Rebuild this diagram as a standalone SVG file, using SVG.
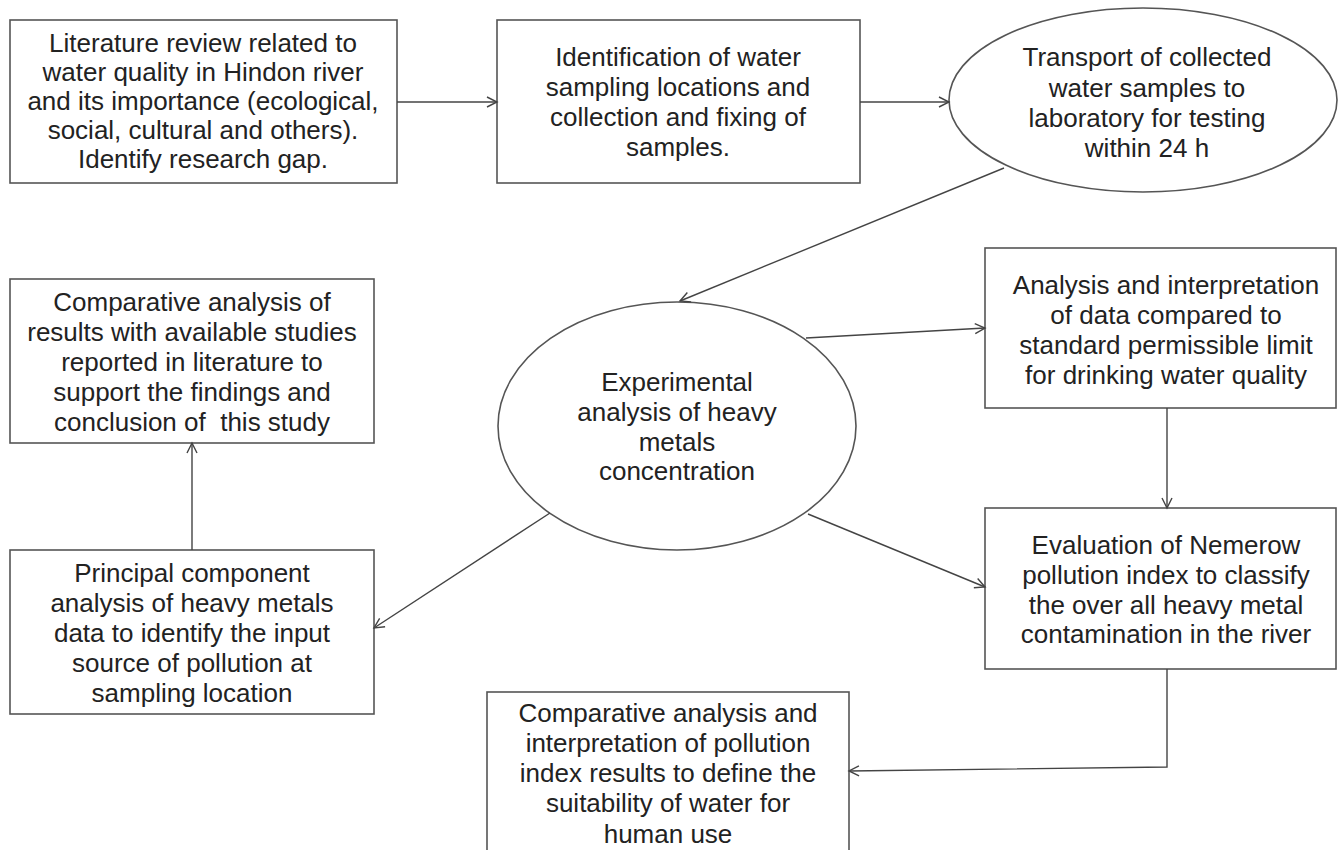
<svg xmlns="http://www.w3.org/2000/svg" width="1338" height="850" viewBox="0 0 1338 850">
<style>
.box{fill:#fff;stroke:#555;stroke-width:1.6}
.t{font-family:"Liberation Sans",Arial,sans-serif;font-size:26px;fill:#222;text-anchor:middle}
.c{fill:none;stroke:#444;stroke-width:1.4}
</style>
<defs>
<marker id="ah" markerUnits="userSpaceOnUse" markerWidth="14" markerHeight="14" refX="11" refY="6" orient="auto">
<path d="M1,1 L11,6 L1,11" fill="none" stroke="#444" stroke-width="1.4"/>
</marker>
</defs>
<rect width="1338" height="850" fill="#fff"/>
<g id="n1">
<rect class="box" x="10" y="20" width="387" height="163"/>
<text class="t" x="203"><tspan x="203" y="52">Literature review related to</tspan><tspan x="203" y="81">water quality in Hindon river</tspan><tspan x="203" y="110">and its importance (ecological,</tspan><tspan x="203" y="139">social, cultural and others).</tspan><tspan x="203" y="168">Identify research gap.</tspan></text>
</g>
<g id="n2">
<rect class="box" x="497" y="20" width="363" height="163"/>
<text class="t"><tspan x="678" y="66">Identification of water</tspan><tspan x="678" y="96">sampling locations and</tspan><tspan x="678" y="126">collection and fixing of</tspan><tspan x="678" y="156">samples.</tspan></text>
</g>
<g id="n3">
<ellipse class="box" cx="1143" cy="100" rx="194" ry="92"/>
<text class="t"><tspan x="1147" y="66">Transport of collected</tspan><tspan x="1147" y="97">water samples to</tspan><tspan x="1147" y="127">laboratory for testing</tspan><tspan x="1147" y="157">within 24 h</tspan></text>
</g>
<g id="n4">
<ellipse class="box" cx="677" cy="426" rx="179" ry="124"/>
<text class="t"><tspan x="677" y="391">Experimental</tspan><tspan x="677" y="421">analysis of heavy</tspan><tspan x="677" y="451">metals</tspan><tspan x="677" y="480">concentration</tspan></text>
</g>
<g id="n5">
<rect class="box" x="10" y="279" width="364" height="164"/>
<text class="t"><tspan x="192" y="311">Comparative analysis of</tspan><tspan x="192" y="341">results with available studies</tspan><tspan x="192" y="371">reported in literature to</tspan><tspan x="192" y="401">support the findings and</tspan><tspan x="192" y="431">conclusion of&#160; this study</tspan></text>
</g>
<g id="n6">
<rect class="box" x="10" y="550" width="364" height="164"/>
<text class="t"><tspan x="192" y="582">Principal component</tspan><tspan x="192" y="612">analysis of heavy metals</tspan><tspan x="192" y="642">data to identify the input</tspan><tspan x="192" y="672">source of pollution at</tspan><tspan x="192" y="702">sampling location</tspan></text>
</g>
<g id="n7">
<rect class="box" x="985" y="248" width="351" height="160"/>
<text class="t"><tspan x="1166" y="294">Analysis and interpretation</tspan><tspan x="1166" y="324">of data compared to</tspan><tspan x="1166" y="354">standard permissible limit</tspan><tspan x="1166" y="384">for drinking water quality</tspan></text>
</g>
<g id="n8">
<rect class="box" x="985" y="508" width="351" height="161"/>
<text class="t"><tspan x="1166" y="554">Evaluation of Nemerow</tspan><tspan x="1166" y="584">pollution index to classify</tspan><tspan x="1166" y="614">the over all heavy metal</tspan><tspan x="1166" y="643">contamination in the river</tspan></text>
</g>
<g id="n9">
<rect class="box" x="487" y="692" width="362" height="170"/>
<text class="t"><tspan x="668" y="722">Comparative analysis and</tspan><tspan x="668" y="752">interpretation of pollution</tspan><tspan x="668" y="782">index results to define the</tspan><tspan x="668" y="812">suitability of water for</tspan><tspan x="668" y="843">human use</tspan></text>
</g>
<g id="connectors">
<line class="c" x1="397" y1="102" x2="497" y2="102" marker-end="url(#ah)"/>
<line class="c" x1="860" y1="102" x2="949" y2="102" marker-end="url(#ah)"/>
<line class="c" x1="1004" y1="168" x2="680" y2="301" marker-end="url(#ah)"/>
<line class="c" x1="806" y1="338" x2="985" y2="328" marker-end="url(#ah)"/>
<line class="c" x1="808" y1="514" x2="985" y2="587" marker-end="url(#ah)"/>
<line class="c" x1="550" y1="513" x2="374" y2="628" marker-end="url(#ah)"/>
<line class="c" x1="192" y1="550" x2="192" y2="443" marker-end="url(#ah)"/>
<line class="c" x1="1167" y1="408" x2="1167" y2="508" marker-end="url(#ah)"/>
<polyline class="c" points="1167,669 1167,767 849,771" marker-end="url(#ah)"/>
</g>
</svg>
